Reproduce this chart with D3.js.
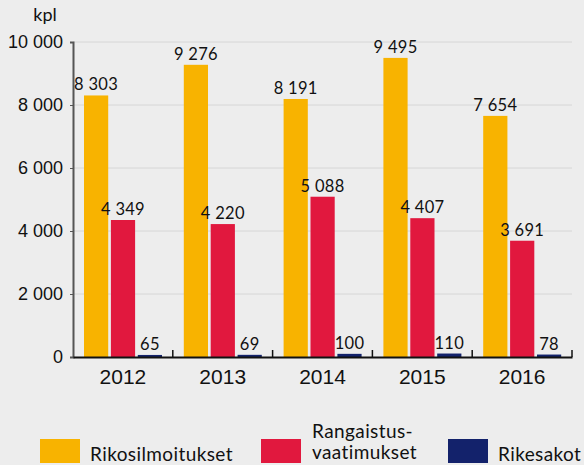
<!DOCTYPE html>
<html>
<head>
<meta charset="utf-8">
<script src="https://cdn.jsdelivr.net/npm/d3@7"></script>
<style>
  body { margin: 0; background: #ededed; }
  svg { display: block; font-family: Lato, "Open Sans", sans-serif; }
</style>
</head>
<body>
<div class="viewport"></div>
<script>
var years = ["2012", "2013", "2014", "2015", "2016"];
var seriesNames = ["Rikosilmoitukset", "Rangaistusvaatimukset", "Rikesakot"];
var rikosilmoitukset = [8303, 9276, 8191, 9495, 7654];
var rangaistusvaatimukset = [4349, 4220, 5088, 4407, 3691];
var rikesakot = [65, 69, 100, 110, 78];
var yTicks = [0, 2000, 4000, 6000, 8000, 10000];
var colors = ["#f8b300", "#e1183e", "#13226b"];

var series = [rikosilmoitukset, rangaistusvaatimukset, rikesakot];

var width = 584, height = 465;
var fmt = function (v) { return d3.format(",")(v).replace(/,/g, " "); };

var svg = d3.select(".viewport").append("svg")
    .attr("width", width)
    .attr("height", height);

svg.append("rect").attr("width", width).attr("height", height).attr("fill", "#ededed");

var x = d3.scaleBand().domain(years).range([73, 572]);
var inner = d3.scaleBand().domain(d3.range(3)).range([11, 89]).paddingInner(0.1);
var y = d3.scaleLinear().domain([0, 10000]).range([357, 42]);

// gridlines
svg.append("g").selectAll("line")
    .data(yTicks.filter(function (d) { return d > 0; }))
    .enter().append("line")
    .attr("x1", 73).attr("x2", 572)
    .attr("y1", function (d) { return y(d); })
    .attr("y2", function (d) { return y(d); })
    .attr("stroke", "#d6d6d6")
    .attr("stroke-width", 1);

// y axis
var yAxis = d3.axisLeft(y).tickValues(yTicks).tickSize(3).tickPadding(7).tickFormat(fmt);
var gy = svg.append("g").attr("transform", "translate(73,0)").call(yAxis);
gy.select(".domain").attr("stroke", "#555").attr("stroke-width", 2);
gy.selectAll(".tick line").attr("stroke", "#555");
gy.selectAll(".tick text").attr("font-size", 18).attr("fill", "#111");

svg.append("text").attr("x", 45).attr("y", 21)
    .attr("text-anchor", "middle").attr("font-size", 18).attr("fill", "#111").text("kpl");

// bars
var groups = svg.append("g").selectAll("g")
    .data(years)
    .enter().append("g")
    .attr("transform", function (d) { return "translate(" + x(d) + ",0)"; });

var cells = function (d, i) { return series.map(function (s, k) { return { k: k, v: s[i] }; }); };

groups.selectAll("rect")
    .data(cells)
    .enter().append("rect")
    .attr("x", function (d) { return inner(d.k); })
    .attr("width", inner.bandwidth())
    .attr("y", function (d) { return y(d.v); })
    .attr("height", function (d) { return y(0) - y(d.v); })
    .attr("fill", function (d) { return colors[d.k]; });

groups.selectAll("text")
    .data(cells)
    .enter().append("text")
    .attr("x", function (d) { return inner(d.k) + inner.bandwidth() / 2; })
    .attr("y", function (d) { return y(d.v) - 5; })
    .attr("text-anchor", "middle")
    .attr("font-size", 16.5)
    .attr("letter-spacing", 0.3)
    .attr("fill", "#111")
    .text(function (d) { return fmt(d.v); });

// x axis
var xAxis = d3.axisBottom(x).tickSize(0).tickPadding(12);
var gx = svg.append("g").attr("transform", "translate(0,357)").call(xAxis);
gx.select(".domain").attr("stroke", "#111").attr("stroke-width", 2);
gx.selectAll(".tick text").attr("font-size", 21).attr("fill", "#111");

svg.append("g").selectAll("line")
    .data(years)
    .enter().append("line")
    .attr("x1", function (d) { return x(d) + x.bandwidth(); })
    .attr("x2", function (d) { return x(d) + x.bandwidth(); })
    .attr("y1", 357).attr("y2", 350)
    .attr("stroke", "#111").attr("stroke-width", 1.5);

// legend
var legend = [
    { name: ["Rikosilmoitukset"], x: 40 },
    { name: ["Rangaistus-", "vaatimukset"], x: 261 },
    { name: ["Rikesakot"], x: 448 }
];
var lg = svg.append("g").selectAll("g")
    .data(legend)
    .enter().append("g")
    .attr("transform", function (d) { return "translate(" + d.x + ",439)"; });
lg.append("rect").attr("width", 40).attr("height", 24)
    .attr("fill", function (d, i) { return colors[i]; });
lg.each(function (d) {
    var t = d3.select(this).append("text").attr("font-size", 19)
        .attr("letter-spacing", 0.4).attr("fill", "#111");
    if (d.name.length === 1) {
        t.append("tspan").attr("x", 50).attr("y", 22).text(d.name[0]);
    } else {
        t.append("tspan").attr("x", 51).attr("y", -1).text(d.name[0]);
        t.append("tspan").attr("x", 51).attr("y", 20).text(d.name[1]);
    }
});
</script>
</body>
</html>
